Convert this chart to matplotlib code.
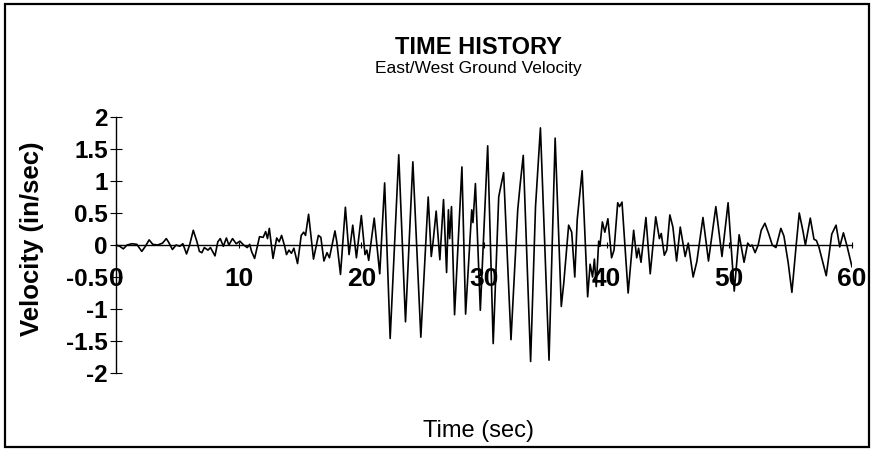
import numpy as np
import matplotlib
matplotlib.use('Agg')
import matplotlib.pyplot as plt
from matplotlib.patches import Rectangle

plt.rcParams['font.family'] = ['Liberation Sans', 'DejaVu Sans']

# East/West ground velocity record (time in sec, velocity in in/sec)
time_sec = [
    0.0, 0.3, 0.6, 0.9, 1.3, 1.7, 2.1, 2.4, 2.7, 3.0, 3.4, 3.8, 4.1, 4.3, 4.6,
    4.9, 5.2, 5.45, 5.75, 6.0, 6.3, 6.6, 6.8, 7.0, 7.2, 7.5, 7.7, 8.07, 8.3,
    8.5, 8.75, 9.0, 9.2, 9.5, 9.8, 10.1, 10.4, 10.7, 10.9, 11.05, 11.3, 11.7,
    12.0, 12.2, 12.35, 12.5, 12.8, 13.1, 13.3, 13.5, 13.75, 13.9, 14.1, 14.3,
    14.5, 14.8, 15.1, 15.3, 15.45, 15.7, 16.1, 16.5, 16.7, 16.95, 17.2, 17.4,
    17.85, 18.0, 18.3, 18.7, 19.0, 19.3, 19.6, 20.0, 20.3, 20.45, 20.6, 21.05,
    21.5, 21.9, 22.35, 23.05, 23.6, 24.2, 24.85, 25.45, 25.7, 25.85, 26.1,
    26.4, 26.7, 26.95, 27.1, 27.2, 27.35, 27.6, 28.2, 28.5, 29.0, 29.1, 29.3,
    29.7, 30.3, 30.75, 31.2, 31.3, 31.6, 32.2, 32.75, 32.95, 33.2, 33.8, 34.2,
    34.6, 35.3, 35.8, 36.3, 36.5, 36.9, 37.15, 37.4, 37.6, 38.0, 38.45, 38.65,
    38.85, 39.0, 39.15, 39.35, 39.45, 39.65, 39.85, 40.1, 40.4, 40.6, 40.9,
    41.05, 41.25, 41.75, 42.2, 42.45, 42.6, 42.8, 43.2, 43.55, 44.0, 44.3,
    44.45, 44.7, 44.9, 45.15, 45.4, 45.7, 46.0, 46.4, 46.65, 47.05, 47.35,
    47.85, 48.3, 48.9, 49.4, 49.9, 50.4, 50.8, 51.2, 51.5, 51.7, 51.85, 52.1,
    52.35, 52.6, 52.9, 53.2, 53.5, 53.8, 54.2, 54.45, 54.8, 55.1, 55.45, 55.7,
    56.0, 56.2, 56.6, 56.9, 57.1, 57.3, 57.9, 58.35, 58.7, 59.0, 59.3, 59.6,
    60.0,
]
velocity = [
    0.0, -0.02, -0.06, 0.0, 0.02, 0.01, -0.10, -0.02, 0.08, 0.01, 0.0, 0.03,
    0.10, 0.04, -0.07, 0.0, -0.02, 0.02, -0.14, 0.0, 0.23, 0.05, -0.10, -0.12,
    -0.04, -0.08, -0.04, -0.17, 0.05, 0.10, -0.02, 0.11, 0.0, 0.10, 0.02,
    0.06, 0.0, -0.04, 0.01, -0.10, -0.21, 0.13, 0.12, 0.21, 0.10, 0.26, -0.21,
    0.11, 0.05, 0.15, -0.02, -0.15, -0.08, -0.13, -0.05, -0.29, 0.15, 0.20,
    0.15, 0.48, -0.22, 0.15, 0.12, -0.25, -0.12, -0.20, 0.22, 0.05, -0.46,
    0.59, -0.15, 0.31, -0.20, 0.46, -0.15, -0.08, -0.24, 0.42, -0.45, 0.97,
    -1.46, 1.41, -1.20, 1.30, -1.44, 0.75, -0.18, 0.05, 0.53, -0.23, 0.71,
    -0.43, 0.55, 0.10, 0.60, -1.09, 1.22, -1.08, 0.55, 0.35, 0.96, -1.02,
    1.55, -1.54, 0.75, 0.85, 1.13, -1.48, 0.55, 0.95, 1.40, -1.82, 0.60, 1.83,
    -1.80, 1.67, -0.96, -0.60, 0.31, 0.20, -0.50, 0.40, 1.16, -0.81, -0.30,
    -0.50, -0.22, -0.65, 0.06, -0.02, 0.36, 0.20, 0.41, -0.20, -0.08, 0.66,
    0.60, 0.67, -0.75, 0.23, -0.20, -0.05, -0.27, 0.43, -0.45, 0.44, 0.10,
    0.18, -0.16, -0.08, 0.47, 0.28, -0.25, 0.28, -0.18, 0.03, -0.50, -0.26,
    0.43, -0.25, 0.60, -0.18, 0.66, -0.72, 0.16, -0.27, 0.03, -0.02, 0.0,
    -0.12, 0.0, 0.23, 0.34, 0.18, 0.0, -0.04, 0.26, 0.14, -0.28, -0.74, 0.0,
    0.50, 0.22, 0.0, 0.42, 0.09, 0.07, -0.03, -0.48, 0.17, 0.31, -0.03, 0.19,
    -0.02, -0.34,
]

x_ticks = [0, 10, 20, 30, 40, 50, 60]
y_ticks = [-2, -1.5, -1, -0.5, 0, 0.5, 1, 1.5, 2]
y_tick_labels = ['-2', '-1.5', '-1', '-0.5', '0', '0.5', '1', '1.5', '2']

fig = plt.figure(figsize=(8.71, 4.5), dpi=100)
ax = fig.add_axes([116 / 871, 1 - 373 / 450, 736 / 871, 256 / 450])

ax.plot(time_sec, velocity, color='black', lw=1.2)

ax.set_xlim(0, 60)
ax.set_ylim(-2, 2)

# axis line runs through zero, like a spreadsheet category axis
ax.spines['bottom'].set_position(('data', 0))
ax.spines['top'].set_visible(False)
ax.spines['right'].set_visible(False)
ax.spines['left'].set_linewidth(1.0)
ax.spines['bottom'].set_linewidth(1.0)

ax.set_xticks(x_ticks)
ax.set_xticklabels([str(t) for t in x_ticks], fontsize=19, fontweight='bold')
ax.tick_params(axis='x', direction='inout', length=5, width=0.8, pad=13)
ax.set_yticks(y_ticks)
ax.set_yticklabels(y_tick_labels, fontsize=17.5, fontweight='bold')
ax.tick_params(axis='y', direction='inout', length=8, width=0.8, pad=2)

ax.set_ylabel('Velocity (in/sec)', fontsize=18.5, fontweight='bold')
ax.yaxis.set_label_coords(-0.098, 0.525)

fig.text(478 / 871, 1 - 47 / 450, 'TIME HISTORY', ha='center', va='center',
         fontsize=17, fontweight='bold')
fig.text(478 / 871, 1 - 69 / 450, 'East/West Ground Velocity', ha='center',
         va='center', fontsize=12.5)
fig.text(478 / 871, 1 - 431 / 450, 'Time (sec)', ha='center', va='center',
         fontsize=17)

# outer chart frame
fig.patches.append(Rectangle((5 / 871, 3 / 450), 864 / 871, 443 / 450,
                             transform=fig.transFigure, fill=False,
                             edgecolor='black', lw=1.6))

fig.savefig('out.png', dpi=100)
